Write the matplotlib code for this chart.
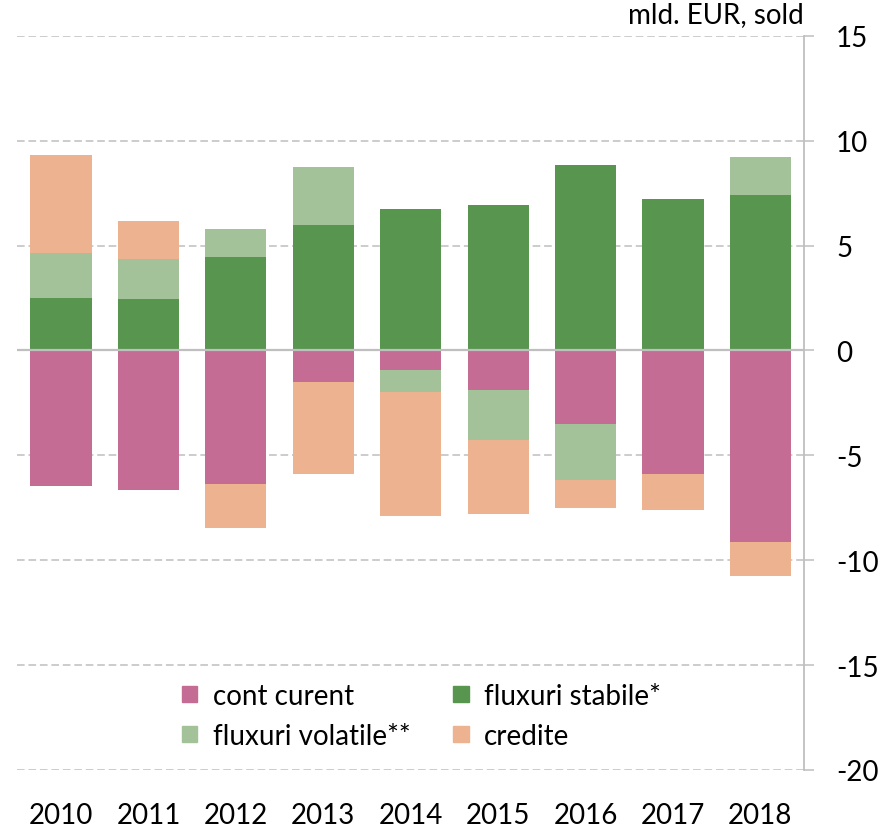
import numpy as np
from matplotlib import pyplot as plt
from matplotlib.patches import Patch

years = ["2010", "2011", "2012", "2013", "2014", "2015", "2016", "2017", "2018"]
cont_curent = [-6.44, -6.65, -6.38, -1.50, -0.92, -1.88, -3.51, -5.90, -9.15]
fluxuri_stabile = [2.52, 2.43, 4.43, 5.97, 6.73, 6.92, 8.84, 7.21, 7.42]
fluxuri_volatile = [2.11, 1.91, 1.34, 2.77, -1.06, -2.39, -2.68, 0.0, 1.80]
credite = [4.69, 1.82, -2.09, -4.38, -5.91, -3.53, -1.32, -1.71, -1.62]

series = [
    ("cont curent", cont_curent, "#C46C94"),
    ("fluxuri stabile*", fluxuri_stabile, "#58954F"),
    ("fluxuri volatile**", fluxuri_volatile, "#A3C299"),
    ("credite", credite, "#EDB28F"),
]

plt.rcParams['font.family'] = ['Lato', 'DejaVu Sans']
plt.rcParams['axes.unicode_minus'] = False
fs = 20
grid_col = "#BFBFBF"

fig = plt.figure(figsize=(8.93, 8.29), dpi=100)
ax = fig.add_axes([0.0194, 0.07, 0.881, 0.8857])

x = np.arange(len(years))
pos_base = np.zeros(len(years))
neg_base = np.zeros(len(years))
for name, vals, col in series:
    v = np.array(vals)
    bottom = np.where(v >= 0, pos_base, neg_base)
    ax.bar(x, v, 0.7, bottom=bottom, color=col, zorder=3)
    pos_base = pos_base + np.where(v > 0, v, 0)
    neg_base = neg_base + np.where(v < 0, v, 0)

ax.set_xlim(-0.5, len(years) - 0.5)
ax.set_ylim(-20, 15)
ax.set_yticks(range(-20, 16, 5))

for yv in range(-20, 16, 5):
    if yv == 0:
        continue
    ax.axhline(yv, color=grid_col, lw=1.1, ls=(0, (5, 2.5)), zorder=1)
ax.axhline(0, color=grid_col, lw=1.6, zorder=4)

for s in ["top", "left", "bottom"]:
    ax.spines[s].set_visible(False)
ax.spines["right"].set_color(grid_col)
ax.spines["right"].set_linewidth(1.3)

ax.yaxis.tick_right()
ax.tick_params(axis="y", which="both", length=7, width=1.1, color=grid_col,
               labelsize=fs, pad=16, direction="out")
for lbl in ax.get_yticklabels():
    lbl.set_horizontalalignment("left")
ax.set_xticks(x)
ax.set_xticklabels(years)
ax.tick_params(axis="x", length=0, labelsize=fs, pad=23)

ax.text(1.0, 1.012, "mld. EUR, sold", transform=ax.transAxes, ha="right",
        va="bottom", fontsize=fs)

handles = {name: Patch(color=col) for name, vals, col in series}
order = ["cont curent", "fluxuri volatile**", "fluxuri stabile*", "credite"]
fig.legend([handles[n] for n in order], order, ncol=2, frameon=False,
           fontsize=fs, loc="upper left", bbox_to_anchor=(0.204, 0.175),
           handlelength=0.55, handleheight=0.55, handletextpad=0.55,
           columnspacing=1.55, labelspacing=0.5, borderpad=0, borderaxespad=0)

fig.savefig("out.png", dpi=100)
